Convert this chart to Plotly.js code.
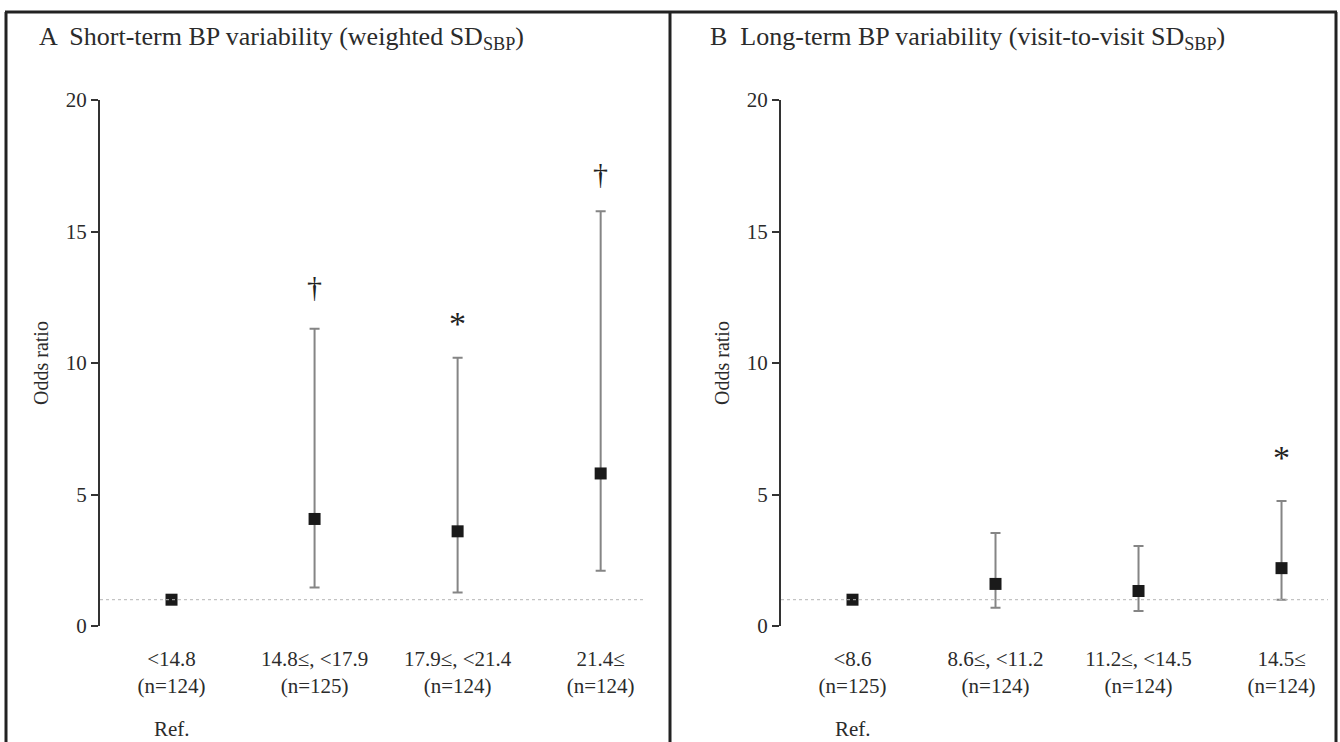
<!DOCTYPE html>
<html>
<head>
<meta charset="utf-8">
<script src="https://cdn.plot.ly/plotly-3.0.1.min.js"></script>
<style>html,body{margin:0;padding:0;background:#fff;}#chart{width:1340px;height:742px;}</style>
</head>
<body>
<div id="chart"></div>
<script>
// ---- data ----
var categoriesA = ["<14.8", "14.8≤, <17.9", "17.9≤, <21.4", "21.4≤"];
var countsA = [124, 125, 124, 124];
var orA = [1.0, 4.07, 3.6, 5.8];
var lowerA = [1.0, 1.46, 1.27, 2.1];
var upperA = [1.0, 11.3, 10.2, 15.77];
var marksA = ["", "†", "*", "†"];
var markPosA = [null, 12.9, 11.5, 17.2];

var categoriesB = ["<8.6", "8.6≤, <11.2", "11.2≤, <14.5", "14.5≤"];
var countsB = [125, 124, 124, 124];
var orB = [1.0, 1.6, 1.33, 2.2];
var lowerB = [1.0, 0.69, 0.57, 1.0];
var upperB = [1.0, 3.54, 3.04, 4.75];
var marksB = ["", "", "", "*"];
var markPosB = [null, null, null, 6.4];

var yTicks = [0, 5, 10, 15, 20];
var refValue = 1;
var refLabel = "Ref.";
var titleA = "A  Short-term BP variability (weighted SD<sub>SBP</sub>)";
var titleB = "B  Long-term BP variability (visit-to-visit SD<sub>SBP</sub>)";
var yTitle = "Odds ratio";

// ---- build ----
var W = 1340, H = 742;
var FONT = "Liberation Serif, Times New Roman, serif";
var TXT = "#2b2b2b";
function esc(s){ return s.replace(/</g, "&lt;"); }
function xs(arr){ return arr.map(function(_, i){ return i + 1; }); }
function tickText(cats, ns){ return cats.map(function(c, i){ return esc(c) + "<br>(n=" + ns[i] + ")"; }); }

function trace(or, lo, up, xa, ya){
  return {
    type: "scatter", mode: "markers",
    x: xs(or), y: or, xaxis: xa, yaxis: ya,
    marker: {symbol: "square", size: 12, color: "#1a1a1a"},
    error_y: {type: "data", symmetric: false,
      array: up.map(function(u, i){ return u - or[i]; }),
      arrayminus: lo.map(function(l, i){ return or[i] - l; }),
      color: "#858585", thickness: 2, width: 5},
    hoverinfo: "skip", showlegend: false
  };
}

var yDomain = [(H - 626) / H, (H - 100) / H];
var yAxisBase = {
  range: [0, 20], tickvals: yTicks, ticktext: yTicks.map(String),
  showgrid: false, zeroline: false, showline: true, linecolor: "#333", linewidth: 2,
  ticks: "outside", ticklen: 7, tickwidth: 2, tickcolor: "#333",
  tickfont: {family: FONT, size: 21, color: TXT}, automargin: false,
  domain: yDomain,
  title: {text: yTitle, font: {family: FONT, size: 20, color: TXT}, standoff: 12}
};
var xAxisBase = function(dom, cats, ns, rng){
  return {
    domain: dom, range: rng, tickvals: [1, 2, 3, 4], ticktext: tickText(cats, ns),
    showgrid: false, zeroline: false, showline: false, ticks: "",
    tickfont: {family: FONT, size: 21, color: TXT}, automargin: false,
    ticklabelstandoff: 18
  };
};

var data = [trace(orA, lowerA, upperA, "x", "y"), trace(orB, lowerB, upperB, "x2", "y2")];

var annotations = [
  {text: titleA, xref: "paper", yref: "paper", x: 37 / W, y: 1 - 38 / H, xanchor: "left", yanchor: "middle",
   showarrow: false, font: {family: FONT, size: 26, color: TXT}},
  {text: titleB, xref: "paper", yref: "paper", x: 708 / W, y: 1 - 38 / H, xanchor: "left", yanchor: "middle",
   showarrow: false, font: {family: FONT, size: 26, color: TXT}},
  {text: refLabel, xref: "x", yref: "paper", x: 1, y: 1 - 729 / H, xanchor: "center", yanchor: "middle",
   showarrow: false, font: {family: FONT, size: 21, color: TXT}},
  {text: refLabel, xref: "x2", yref: "paper", x: 1, y: 1 - 729 / H, xanchor: "center", yanchor: "middle",
   showarrow: false, font: {family: FONT, size: 21, color: TXT}}
];
marksA.forEach(function(m, i){ if (m) annotations.push({text: m, xref: "x", yref: "y", x: i + 1, y: markPosA[i],
  showarrow: false, xanchor: "center", yanchor: "middle", font: {family: FONT, size: m === "*" ? 34 : 30, color: "#222"}}); });
marksB.forEach(function(m, i){ if (m) annotations.push({text: m, xref: "x2", yref: "y2", x: i + 1, y: markPosB[i],
  showarrow: false, xanchor: "center", yanchor: "middle", font: {family: FONT, size: m === "*" ? 34 : 30, color: "#222"}}); });

var frame = "#222";
var shapes = [
  {type: "line", xref: "x domain", yref: "y", x0: 0, x1: 1, y0: refValue, y1: refValue, line: {color: "#b5b5b5", width: 1, dash: "dot"}},
  {type: "line", xref: "x2 domain", yref: "y2", x0: 0, x1: 1, y0: refValue, y1: refValue, line: {color: "#b5b5b5", width: 1, dash: "dot"}},
  {type: "line", xref: "paper", yref: "paper", x0: 5 / W, x1: 1337 / W, y0: 1 - 12 / H, y1: 1 - 12 / H, line: {color: frame, width: 3}},
  {type: "line", xref: "paper", yref: "paper", x0: 6 / W, x1: 6 / W, y0: 0, y1: 1 - 12 / H, line: {color: frame, width: 3}},
  {type: "line", xref: "paper", yref: "paper", x0: 670 / W, x1: 670 / W, y0: 0, y1: 1 - 12 / H, line: {color: frame, width: 3}},
  {type: "line", xref: "paper", yref: "paper", x0: 1336 / W, x1: 1336 / W, y0: 0, y1: 1 - 12 / H, line: {color: frame, width: 3}}
];

var yA = JSON.parse(JSON.stringify(yAxisBase)); yA.anchor = "x";
var yB = JSON.parse(JSON.stringify(yAxisBase)); yB.anchor = "x2";
var layout = {
  width: W, height: H, margin: {l: 0, r: 0, t: 0, b: 0},
  paper_bgcolor: "#fff", plot_bgcolor: "#fff", showlegend: false,
  xaxis: xAxisBase([100 / W, 645 / W], categoriesA, countsA, [0.5, 4.31]),
  xaxis2: xAxisBase([781 / W, 1328 / W], categoriesB, countsB, [0.5, 4.325]),
  yaxis: yA, yaxis2: yB,
  annotations: annotations, shapes: shapes
};
layout.xaxis.anchor = "y"; layout.xaxis2.anchor = "y2";

Plotly.newPlot("chart", data, layout, {displayModeBar: false, staticPlot: true});
</script>
</body>
</html>
